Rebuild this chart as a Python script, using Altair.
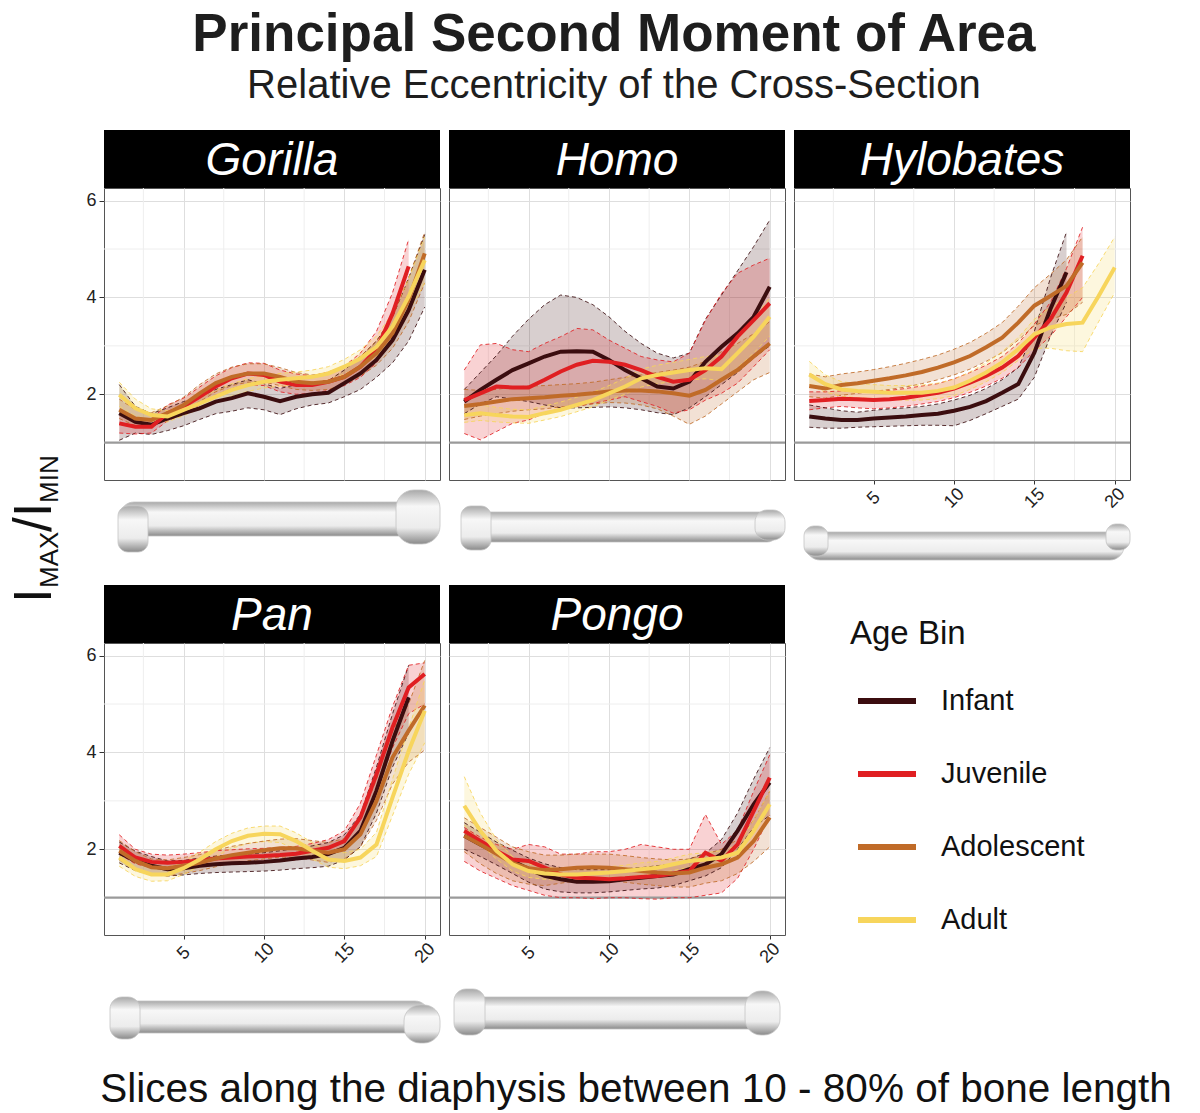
import altair as alt
import pandas as pd

ages = ["Infant", "Juvenile", "Adolescent", "Adult"]
age_colors = ["#3b0d0f", "#e01f22", "#c06b28", "#f7d55c"]
slices = list(range(1, 21))
x_ticks = [5, 10, 15, 20]
y_ticks = [2, 4, 6]
x_minor = [2.5, 7.5, 12.5, 17.5]
y_minor = [3, 5]
isotropy = [1]

# mean I_max/I_min per slice
gorilla_mean = {
    "Infant": [1.61, 1.43, 1.37, 1.50, 1.61, 1.71, 1.85, 1.92, 2.02, 1.95, 1.86, 1.95, 2.00, 2.03, 2.23, 2.43, 2.71, 3.12, 3.74, 4.57],
    "Juvenile": [1.40, 1.33, 1.33, 1.61, 1.75, 1.95, 2.16, 2.33, 2.43, 2.40, 2.26, 2.19, 2.19, 2.26, 2.36, 2.57, 2.92, 3.67, 4.64],
    "Adolescent": [1.68, 1.50, 1.47, 1.61, 1.78, 2.02, 2.23, 2.36, 2.43, 2.43, 2.36, 2.26, 2.23, 2.26, 2.36, 2.57, 2.85, 3.26, 3.95, 4.91],
    "Adult": [1.99, 1.71, 1.57, 1.54, 1.68, 1.81, 1.95, 2.09, 2.19, 2.26, 2.30, 2.33, 2.36, 2.43, 2.57, 2.74, 2.98, 3.40, 4.02, 4.77],
}
gorilla_lo = {
    "Infant": [1.05, 1.20, 1.17, 1.25, 1.35, 1.48, 1.60, 1.65, 1.72, 1.68, 1.58, 1.70, 1.78, 1.82, 1.95, 2.10, 2.35, 2.65, 3.10, 3.80],
    "Juvenile": [1.20, 1.18, 1.20, 1.45, 1.60, 1.78, 1.98, 2.12, 2.20, 2.18, 2.05, 2.00, 2.02, 2.08, 2.18, 2.35, 2.65, 3.20, 4.00],
    "Adolescent": [1.50, 1.35, 1.33, 1.48, 1.62, 1.85, 2.05, 2.18, 2.25, 2.25, 2.18, 2.10, 2.08, 2.10, 2.20, 2.38, 2.60, 2.95, 3.50, 4.30],
    "Adult": [1.75, 1.55, 1.45, 1.43, 1.56, 1.70, 1.83, 1.96, 2.06, 2.13, 2.17, 2.20, 2.22, 2.29, 2.42, 2.57, 2.78, 3.15, 3.70, 4.30],
}
gorilla_hi = {
    "Infant": [2.20, 1.75, 1.60, 1.72, 1.85, 1.95, 2.10, 2.20, 2.30, 2.22, 2.12, 2.20, 2.25, 2.28, 2.50, 2.78, 3.10, 3.60, 4.40, 5.30],
    "Juvenile": [1.65, 1.50, 1.50, 1.78, 1.92, 2.15, 2.38, 2.55, 2.65, 2.64, 2.50, 2.42, 2.38, 2.46, 2.58, 2.85, 3.30, 4.10, 5.20],
    "Adolescent": [1.90, 1.68, 1.62, 1.76, 1.94, 2.20, 2.42, 2.56, 2.63, 2.63, 2.55, 2.45, 2.40, 2.43, 2.55, 2.78, 3.10, 3.60, 4.40, 5.35],
    "Adult": [2.25, 1.90, 1.70, 1.66, 1.80, 1.93, 2.08, 2.22, 2.32, 2.39, 2.43, 2.46, 2.50, 2.57, 2.72, 2.92, 3.20, 3.68, 4.38, 5.25],
}

homo_mean = {
    "Infant": [1.85, 2.09, 2.30, 2.50, 2.64, 2.78, 2.88, 2.89, 2.88, 2.71, 2.50, 2.33, 2.16, 2.12, 2.26, 2.67, 2.98, 3.26, 3.60, 4.22],
    "Juvenile": [1.88, 2.02, 2.16, 2.14, 2.14, 2.30, 2.47, 2.61, 2.69, 2.67, 2.61, 2.50, 2.36, 2.26, 2.30, 2.50, 2.78, 3.19, 3.53, 3.88],
    "Adolescent": [1.76, 1.80, 1.85, 1.90, 1.92, 1.94, 1.97, 1.99, 2.02, 2.06, 2.08, 2.08, 2.06, 2.02, 1.97, 2.09, 2.30, 2.50, 2.78, 3.05],
    "Adult": [1.57, 1.61, 1.57, 1.54, 1.53, 1.61, 1.68, 1.78, 1.88, 2.02, 2.16, 2.33, 2.40, 2.45, 2.50, 2.54, 2.52, 2.85, 3.19, 3.60],
}
homo_lo = {
    "Infant": [1.60, 1.80, 1.95, 1.90, 1.85, 1.78, 1.72, 1.72, 1.73, 1.74, 1.72, 1.68, 1.62, 1.58, 1.72, 1.95, 2.20, 2.45, 2.75, 3.00],
    "Juvenile": [1.19, 1.06, 1.23, 1.40, 1.47, 1.61, 1.68, 1.75, 1.81, 1.88, 1.95, 1.85, 1.75, 1.61, 1.68, 1.88, 2.02, 2.23, 2.57, 2.92],
    "Adolescent": [1.48, 1.55, 1.60, 1.65, 1.68, 1.70, 1.74, 1.77, 1.80, 1.83, 1.82, 1.78, 1.70, 1.55, 1.38, 1.55, 1.80, 2.05, 2.30, 2.45],
    "Adult": [1.42, 1.46, 1.43, 1.41, 1.40, 1.47, 1.54, 1.64, 1.74, 1.88, 2.00, 2.15, 2.22, 2.26, 2.30, 2.32, 2.28, 2.55, 2.85, 3.20],
}
homo_hi = {
    "Infant": [2.10, 2.45, 2.80, 3.20, 3.55, 3.85, 4.05, 4.00, 3.85, 3.60, 3.30, 3.05, 2.85, 2.75, 2.85, 3.55, 4.05, 4.55, 5.05, 5.60],
    "Juvenile": [2.50, 3.02, 3.05, 2.92, 2.88, 3.05, 3.19, 3.36, 3.33, 3.12, 2.95, 2.78, 2.71, 2.67, 2.85, 3.53, 4.08, 4.50, 4.67, 4.81],
    "Adolescent": [2.10, 2.08, 2.10, 2.15, 2.17, 2.18, 2.20, 2.22, 2.25, 2.30, 2.35, 2.40, 2.45, 2.50, 2.56, 2.68, 2.88, 3.05, 3.25, 3.50],
    "Adult": [1.75, 1.78, 1.73, 1.69, 1.68, 1.76, 1.84, 1.94, 2.04, 2.18, 2.33, 2.52, 2.60, 2.66, 2.72, 2.78, 2.80, 3.15, 3.55, 4.00],
}

hylobates_mean = {
    "Infant": [1.54, 1.50, 1.47, 1.47, 1.50, 1.52, 1.54, 1.57, 1.60, 1.66, 1.74, 1.86, 2.03, 2.21, 2.86, 3.76, 4.52],
    "Juvenile": [1.86, 1.88, 1.91, 1.90, 1.88, 1.90, 1.93, 1.98, 2.03, 2.12, 2.24, 2.38, 2.55, 2.79, 3.17, 3.55, 4.10, 4.86],
    "Adolescent": [2.17, 2.12, 2.19, 2.23, 2.28, 2.33, 2.39, 2.46, 2.55, 2.66, 2.79, 2.97, 3.17, 3.48, 3.83, 4.03, 4.24, 4.72],
    "Adult": [2.41, 2.21, 2.10, 2.07, 2.05, 2.03, 2.03, 2.03, 2.07, 2.14, 2.28, 2.45, 2.66, 2.93, 3.24, 3.38, 3.45, 3.48, 4.03, 4.62],
}
hylobates_lo = {
    "Infant": [1.32, 1.30, 1.30, 1.32, 1.33, 1.34, 1.35, 1.36, 1.36, 1.35, 1.46, 1.60, 1.75, 1.90, 2.35, 3.20, 3.90],
    "Juvenile": [1.68, 1.72, 1.75, 1.72, 1.70, 1.72, 1.75, 1.80, 1.85, 1.93, 2.04, 2.17, 2.33, 2.55, 2.90, 3.20, 3.60, 4.00],
    "Adolescent": [1.95, 1.92, 1.98, 2.02, 2.06, 2.10, 2.15, 2.22, 2.30, 2.40, 2.52, 2.68, 2.86, 3.12, 3.42, 3.55, 3.65, 3.90],
    "Adult": [2.20, 2.04, 1.96, 1.93, 1.91, 1.89, 1.88, 1.88, 1.91, 1.97, 2.10, 2.26, 2.45, 2.70, 2.95, 2.95, 2.90, 2.88, 3.50, 4.10],
}
hylobates_hi = {
    "Infant": [1.78, 1.72, 1.66, 1.63, 1.67, 1.70, 1.72, 1.75, 1.80, 1.88, 1.98, 2.12, 2.30, 2.55, 3.30, 4.40, 5.35],
    "Juvenile": [2.05, 2.05, 2.07, 2.07, 2.06, 2.08, 2.12, 2.17, 2.22, 2.32, 2.45, 2.60, 2.78, 3.05, 3.45, 3.90, 4.60, 5.45],
    "Adolescent": [2.42, 2.36, 2.42, 2.46, 2.51, 2.57, 2.64, 2.72, 2.81, 2.93, 3.07, 3.26, 3.48, 3.82, 4.20, 4.48, 4.78, 5.25],
    "Adult": [2.68, 2.40, 2.26, 2.22, 2.20, 2.18, 2.18, 2.19, 2.23, 2.31, 2.46, 2.65, 2.88, 3.17, 3.55, 3.80, 4.00, 4.20, 4.70, 5.25],
}

pan_mean = {
    "Infant": [1.93, 1.76, 1.66, 1.59, 1.61, 1.66, 1.69, 1.71, 1.72, 1.74, 1.77, 1.81, 1.84, 1.90, 2.03, 2.38, 3.21, 4.24, 5.14],
    "Juvenile": [2.07, 1.83, 1.74, 1.72, 1.74, 1.77, 1.81, 1.83, 1.85, 1.86, 1.88, 1.91, 1.97, 2.03, 2.17, 2.66, 3.55, 4.52, 5.34, 5.62],
    "Adolescent": [1.97, 1.76, 1.63, 1.61, 1.66, 1.72, 1.81, 1.88, 1.93, 1.98, 2.02, 2.02, 1.97, 1.93, 2.00, 2.31, 3.00, 3.90, 4.45, 4.97],
    "Adult": [1.83, 1.59, 1.48, 1.48, 1.61, 1.79, 2.00, 2.17, 2.28, 2.32, 2.31, 2.17, 1.97, 1.79, 1.76, 1.83, 2.10, 3.07, 4.03, 4.86],
}
pan_lo = {
    "Infant": [1.72, 1.56, 1.48, 1.45, 1.47, 1.50, 1.52, 1.53, 1.54, 1.55, 1.57, 1.60, 1.62, 1.65, 1.78, 2.05, 2.75, 3.70, 4.40],
    "Juvenile": [1.90, 1.70, 1.62, 1.60, 1.62, 1.65, 1.69, 1.71, 1.73, 1.74, 1.76, 1.78, 1.83, 1.88, 2.00, 2.42, 3.20, 4.10, 4.80, 5.00],
    "Adolescent": [1.78, 1.58, 1.47, 1.45, 1.50, 1.56, 1.64, 1.71, 1.76, 1.80, 1.84, 1.83, 1.78, 1.73, 1.80, 2.05, 2.60, 3.35, 3.80, 4.05],
    "Adult": [1.65, 1.44, 1.34, 1.35, 1.48, 1.65, 1.85, 2.02, 2.12, 2.16, 2.14, 2.00, 1.80, 1.63, 1.60, 1.66, 1.85, 2.70, 3.55, 4.20],
}
pan_hi = {
    "Infant": [2.15, 1.96, 1.85, 1.76, 1.77, 1.82, 1.86, 1.88, 1.90, 1.93, 1.97, 2.02, 2.07, 2.14, 2.30, 2.72, 3.70, 4.80, 5.80],
    "Juvenile": [2.30, 2.00, 1.90, 1.88, 1.90, 1.93, 1.97, 1.99, 2.01, 2.02, 2.04, 2.06, 2.12, 2.20, 2.38, 2.95, 3.95, 4.95, 5.80, 5.85],
    "Adolescent": [2.18, 1.95, 1.80, 1.78, 1.83, 1.89, 1.98, 2.06, 2.12, 2.17, 2.21, 2.22, 2.18, 2.14, 2.22, 2.60, 3.45, 4.45, 5.00, 5.90],
    "Adult": [2.02, 1.75, 1.63, 1.62, 1.75, 1.94, 2.16, 2.33, 2.44, 2.48, 2.48, 2.34, 2.14, 1.96, 1.93, 2.00, 2.35, 3.45, 4.50, 5.50],
}

pongo_mean = {
    "Infant": [2.28, 2.10, 1.93, 1.76, 1.59, 1.45, 1.38, 1.33, 1.33, 1.34, 1.38, 1.41, 1.45, 1.48, 1.59, 1.69, 1.90, 2.38, 2.93, 3.38],
    "Juvenile": [2.38, 2.17, 1.97, 1.79, 1.76, 1.62, 1.48, 1.41, 1.40, 1.38, 1.40, 1.43, 1.45, 1.50, 1.55, 1.93, 1.76, 2.10, 2.79, 3.48],
    "Adolescent": [2.28, 2.10, 1.91, 1.72, 1.61, 1.57, 1.59, 1.62, 1.63, 1.62, 1.59, 1.55, 1.52, 1.50, 1.52, 1.62, 1.69, 1.83, 2.17, 2.66],
    "Adult": [2.90, 2.38, 1.97, 1.69, 1.55, 1.50, 1.48, 1.48, 1.50, 1.52, 1.55, 1.59, 1.62, 1.69, 1.76, 1.79, 1.83, 1.93, 2.38, 2.93],
}
pongo_lo = {
    "Infant": [2.00, 1.85, 1.68, 1.50, 1.32, 1.18, 1.12, 1.10, 1.10, 1.12, 1.15, 1.18, 1.20, 1.25, 1.35, 1.45, 1.62, 2.00, 2.45, 2.70],
    "Juvenile": [1.75, 1.55, 1.40, 1.25, 1.15, 1.05, 1.00, 1.00, 0.98, 1.00, 1.00, 0.98, 0.97, 1.00, 1.00, 1.05, 1.10, 1.40, 2.00, 2.70],
    "Adolescent": [1.95, 1.70, 1.50, 1.35, 1.28, 1.25, 1.30, 1.35, 1.36, 1.35, 1.32, 1.28, 1.25, 1.22, 1.22, 1.30, 1.35, 1.50, 1.75, 2.05],
    "Adult": [2.50, 2.10, 1.80, 1.55, 1.42, 1.38, 1.36, 1.36, 1.38, 1.40, 1.42, 1.46, 1.50, 1.56, 1.63, 1.66, 1.70, 1.80, 2.20, 2.70],
}
pongo_hi = {
    "Infant": [2.55, 2.35, 2.15, 1.98, 1.82, 1.70, 1.62, 1.58, 1.58, 1.58, 1.60, 1.62, 1.66, 1.70, 1.80, 1.92, 2.20, 2.75, 3.45, 4.10],
    "Juvenile": [2.45, 2.25, 2.10, 2.00, 2.10, 2.05, 1.90, 1.90, 1.95, 1.95, 2.00, 2.10, 2.05, 2.00, 2.00, 2.72, 2.10, 2.40, 3.20, 3.95],
    "Adolescent": [2.65, 2.45, 2.25, 2.05, 1.95, 1.88, 1.88, 1.90, 1.90, 1.90, 1.87, 1.83, 1.80, 1.78, 1.80, 1.90, 2.00, 2.20, 2.60, 3.20],
    "Adult": [3.50, 2.75, 2.20, 1.85, 1.70, 1.63, 1.60, 1.60, 1.62, 1.64, 1.67, 1.72, 1.75, 1.82, 1.90, 1.93, 1.97, 2.08, 2.60, 3.20],
}

FONT = "Liberation Sans"
W, H = 336, 292
HEADER = 58

x_scale = alt.Scale(domain=[0.05, 20.95], nice=False, zero=False)
y_scale = alt.Scale(domain=[0.23, 6.26], nice=False, zero=False)
color = alt.Color("age:N", scale=alt.Scale(domain=ages, range=age_colors), legend=None)

bone_fill = alt.Gradient(
    gradient="linear", x1=0, x2=0, y1=0, y2=1,
    stops=[alt.GradientStop(color="#a8a8a8", offset=0),
           alt.GradientStop(color="#f7f7f7", offset=0.3),
           alt.GradientStop(color="#ececec", offset=0.7),
           alt.GradientStop(color="#8a8a8a", offset=1)],
)

# rough stand-ins for the bone renders under each panel (x0, x1, y0, y1, radius), px below plot top
bones = {
    "Gorilla": [(16, 320, H + 22, H + 56, 14), (14, 44, H + 26, H + 72, 10), (292, 336, H + 10, H + 64, 18)],
    "Homo": [(14, 330, H + 32, H + 62, 12), (12, 42, H + 26, H + 70, 10), (306, 336, H + 30, H + 60, 12)],
    "Hylobates": [(12, 330, H + 52, H + 80, 14), (10, 34, H + 46, H + 76, 10), (312, 336, H + 44, H + 70, 10)],
    "Pan": [(10, 325, H + 66, H + 98, 14), (6, 36, H + 62, H + 104, 12), (300, 336, H + 70, H + 108, 16)],
    "Pongo": [(8, 320, H + 62, H + 94, 12), (5, 36, H + 54, H + 100, 12), (296, 331, H + 56, H + 100, 16)],
}


def long_table(mean, lo, hi):
    rows = []
    for age in ages:
        for i, m in enumerate(mean[age]):
            rows.append({"slice": slices[i], "age": age, "mean": m,
                         "lo": lo[age][i], "hi": hi[age][i]})
    return pd.DataFrame(rows)


def panel(name, df, show_y, show_x):
    grid = dict(grid=True, gridColor="#dedede", gridWidth=1, domain=False, title=None)
    if show_x:
        x_axis = alt.Axis(values=x_ticks, labelAngle=315, labelAlign="center", labelBaseline="middle",
                          labelPadding=14, labelFontSize=18, labelColor="#222", labelFont=FONT,
                          tickSize=4, tickColor="#333", labelOverlap=False, labelFlush=False, **grid)
    else:
        x_axis = alt.Axis(values=x_ticks, labels=False, ticks=False, **grid)
    if show_y:
        y_axis = alt.Axis(values=y_ticks, labelFontSize=18, labelColor="#222", labelFont=FONT,
                          labelPadding=3, tickSize=5, tickColor="#333", **grid)
    else:
        y_axis = alt.Axis(values=y_ticks, labels=False, ticks=False, **grid)

    X = lambda f: alt.X(f, scale=x_scale, axis=x_axis)
    Y = lambda f: alt.Y(f, scale=y_scale, axis=y_axis)

    minor_x = alt.Chart(pd.DataFrame({"v": x_minor})).mark_rule(color="#eeeeee", strokeWidth=1).encode(x=X("v:Q"))
    minor_y = alt.Chart(pd.DataFrame({"v": y_minor})).mark_rule(color="#eeeeee", strokeWidth=1).encode(y=Y("v:Q"))
    ref = alt.Chart(pd.DataFrame({"v": isotropy})).mark_rule(color="#9a9a9a", strokeWidth=2.2).encode(y=Y("v:Q"))

    base = alt.Chart(df)
    band = base.mark_area(opacity=0.2).encode(x=X("slice:Q"), y=Y("lo:Q"), y2="hi:Q", color=color)
    lo_edge = base.mark_line(strokeDash=[4, 3], strokeWidth=1, opacity=0.85).encode(x=X("slice:Q"), y=Y("lo:Q"), color=color)
    hi_edge = base.mark_line(strokeDash=[4, 3], strokeWidth=1, opacity=0.85).encode(x=X("slice:Q"), y=Y("hi:Q"), color=color)
    line = base.mark_line(strokeWidth=4).encode(x=X("slice:Q"), y=Y("mean:Q"), color=color)

    lab = pd.DataFrame({"name": [name]})
    strip = alt.Chart(lab).mark_rect(color="black").encode(
        x=alt.value(0), x2=alt.value(W), y=alt.value(-HEADER), y2=alt.value(0))
    strip_text = alt.Chart(lab).mark_text(font=FONT, fontStyle="italic", fontSize=46, color="white",
                                          align="center", baseline="alphabetic").encode(
        x=alt.value(W / 2), y=alt.value(-13), text="name:N")

    bone_layers = []
    for x0, x1, y0, y1, r in bones[name]:
        bone_layers.append(alt.Chart(lab).mark_rect(color=bone_fill, cornerRadius=r, stroke="#c4c4c4",
                                                    strokeWidth=0.8).encode(
            x=alt.value(x0), x2=alt.value(x1), y=alt.value(y0), y2=alt.value(y1)))

    return alt.layer(minor_x, minor_y, band, ref, lo_edge, hi_edge, line, strip, strip_text,
                     *bone_layers).properties(
        width=W, height=H, view=alt.ViewBackground(stroke="#555", strokeWidth=1))


gorilla = panel("Gorilla", long_table(gorilla_mean, gorilla_lo, gorilla_hi), True, False)
homo = panel("Homo", long_table(homo_mean, homo_lo, homo_hi), False, False)
hylobates = panel("Hylobates", long_table(hylobates_mean, hylobates_lo, hylobates_hi), False, True)
pan = panel("Pan", long_table(pan_mean, pan_lo, pan_hi), True, True)
pongo = panel("Pongo", long_table(pongo_mean, pongo_lo, pongo_hi), False, True)

# legend drawn by hand in the empty sixth slot
leg_y = alt.Y("age:N", sort=ages, axis=None,
              scale=alt.Scale(type="point", domain=ages, range=[58, 277], padding=0))
leg_df = pd.DataFrame({"age": ages})
leg_pad = alt.Chart(pd.DataFrame({"t": ["Age Bin"]})).mark_rect(opacity=0).encode(
    x=alt.value(0), x2=alt.value(10), y=alt.value(-HEADER), y2=alt.value(0))
leg_title = alt.Chart(pd.DataFrame({"t": ["Age Bin"]})).mark_text(
    font=FONT, fontSize=33, align="left", baseline="alphabetic", color="#111").encode(
    x=alt.value(58), y=alt.value(1), text="t:N")
leg_lines = alt.Chart(leg_df).mark_rule(strokeWidth=6).encode(
    x=alt.value(66), x2=alt.value(124), y=leg_y, color=color)
leg_text = alt.Chart(leg_df).mark_text(font=FONT, fontSize=29, align="left", baseline="middle",
                                       color="#111").encode(
    x=alt.value(149), y=leg_y, text="age:N")
legend = alt.layer(leg_pad, leg_title, leg_lines, leg_text).properties(
    width=W, height=H, view=alt.ViewBackground(stroke=None))

row1 = alt.hconcat(gorilla, homo, hylobates, spacing=5)
row2 = alt.hconcat(pan, pongo, legend, spacing=5)
panels = alt.vconcat(row1, row2, spacing=23)

# y axis title I_MAX / I_MIN built from pieces (text runs bottom to top)
ylab_parts = [("I", 53, 43, 415), ("MAX", 26, 50, 400), ("/I", 53, 43, 344), ("MIN", 26, 50, 315)]
ylab_layers = []
for txt, fs, xx, yy in ylab_parts:
    ylab_layers.append(alt.Chart(pd.DataFrame({"t": [txt]})).mark_text(
        font=FONT, fontSize=fs, angle=270, align="left", baseline="alphabetic", color="#111").encode(
        x=alt.value(xx), y=alt.value(yy), text="t:N"))
ylab = alt.layer(*ylab_layers).properties(width=77, height=760, view=alt.ViewBackground(stroke=None))

xlab = alt.Chart(pd.DataFrame({"t": ["Slices along the diaphysis between 10 - 80% of bone length"]})).mark_text(
    font=FONT, fontSize=40.5, align="center", baseline="alphabetic", color="#111").encode(
    x=alt.value(628), y=alt.value(50), text="t:N").properties(
    width=1130, height=56, view=alt.ViewBackground(stroke=None))

body = alt.hconcat(ylab, panels, spacing=0)

chart = alt.vconcat(body, xlab, spacing=8).properties(
    title=alt.TitleParams(
        text="Principal Second Moment of Area",
        subtitle="Relative Eccentricity of the Cross-Section",
        font=FONT, subtitleFont=FONT, fontSize=53, fontWeight="bold", subtitleFontSize=40,
        color="#1e1e1e", subtitleColor="#1e1e1e", anchor="middle",
        subtitlePadding=4, offset=24, dx=24,
    ),
    padding=0,
).configure(font=FONT).configure_view(stroke=None)

chart.save("out.html", embed_options={"renderer": "svg", "actions": False})
